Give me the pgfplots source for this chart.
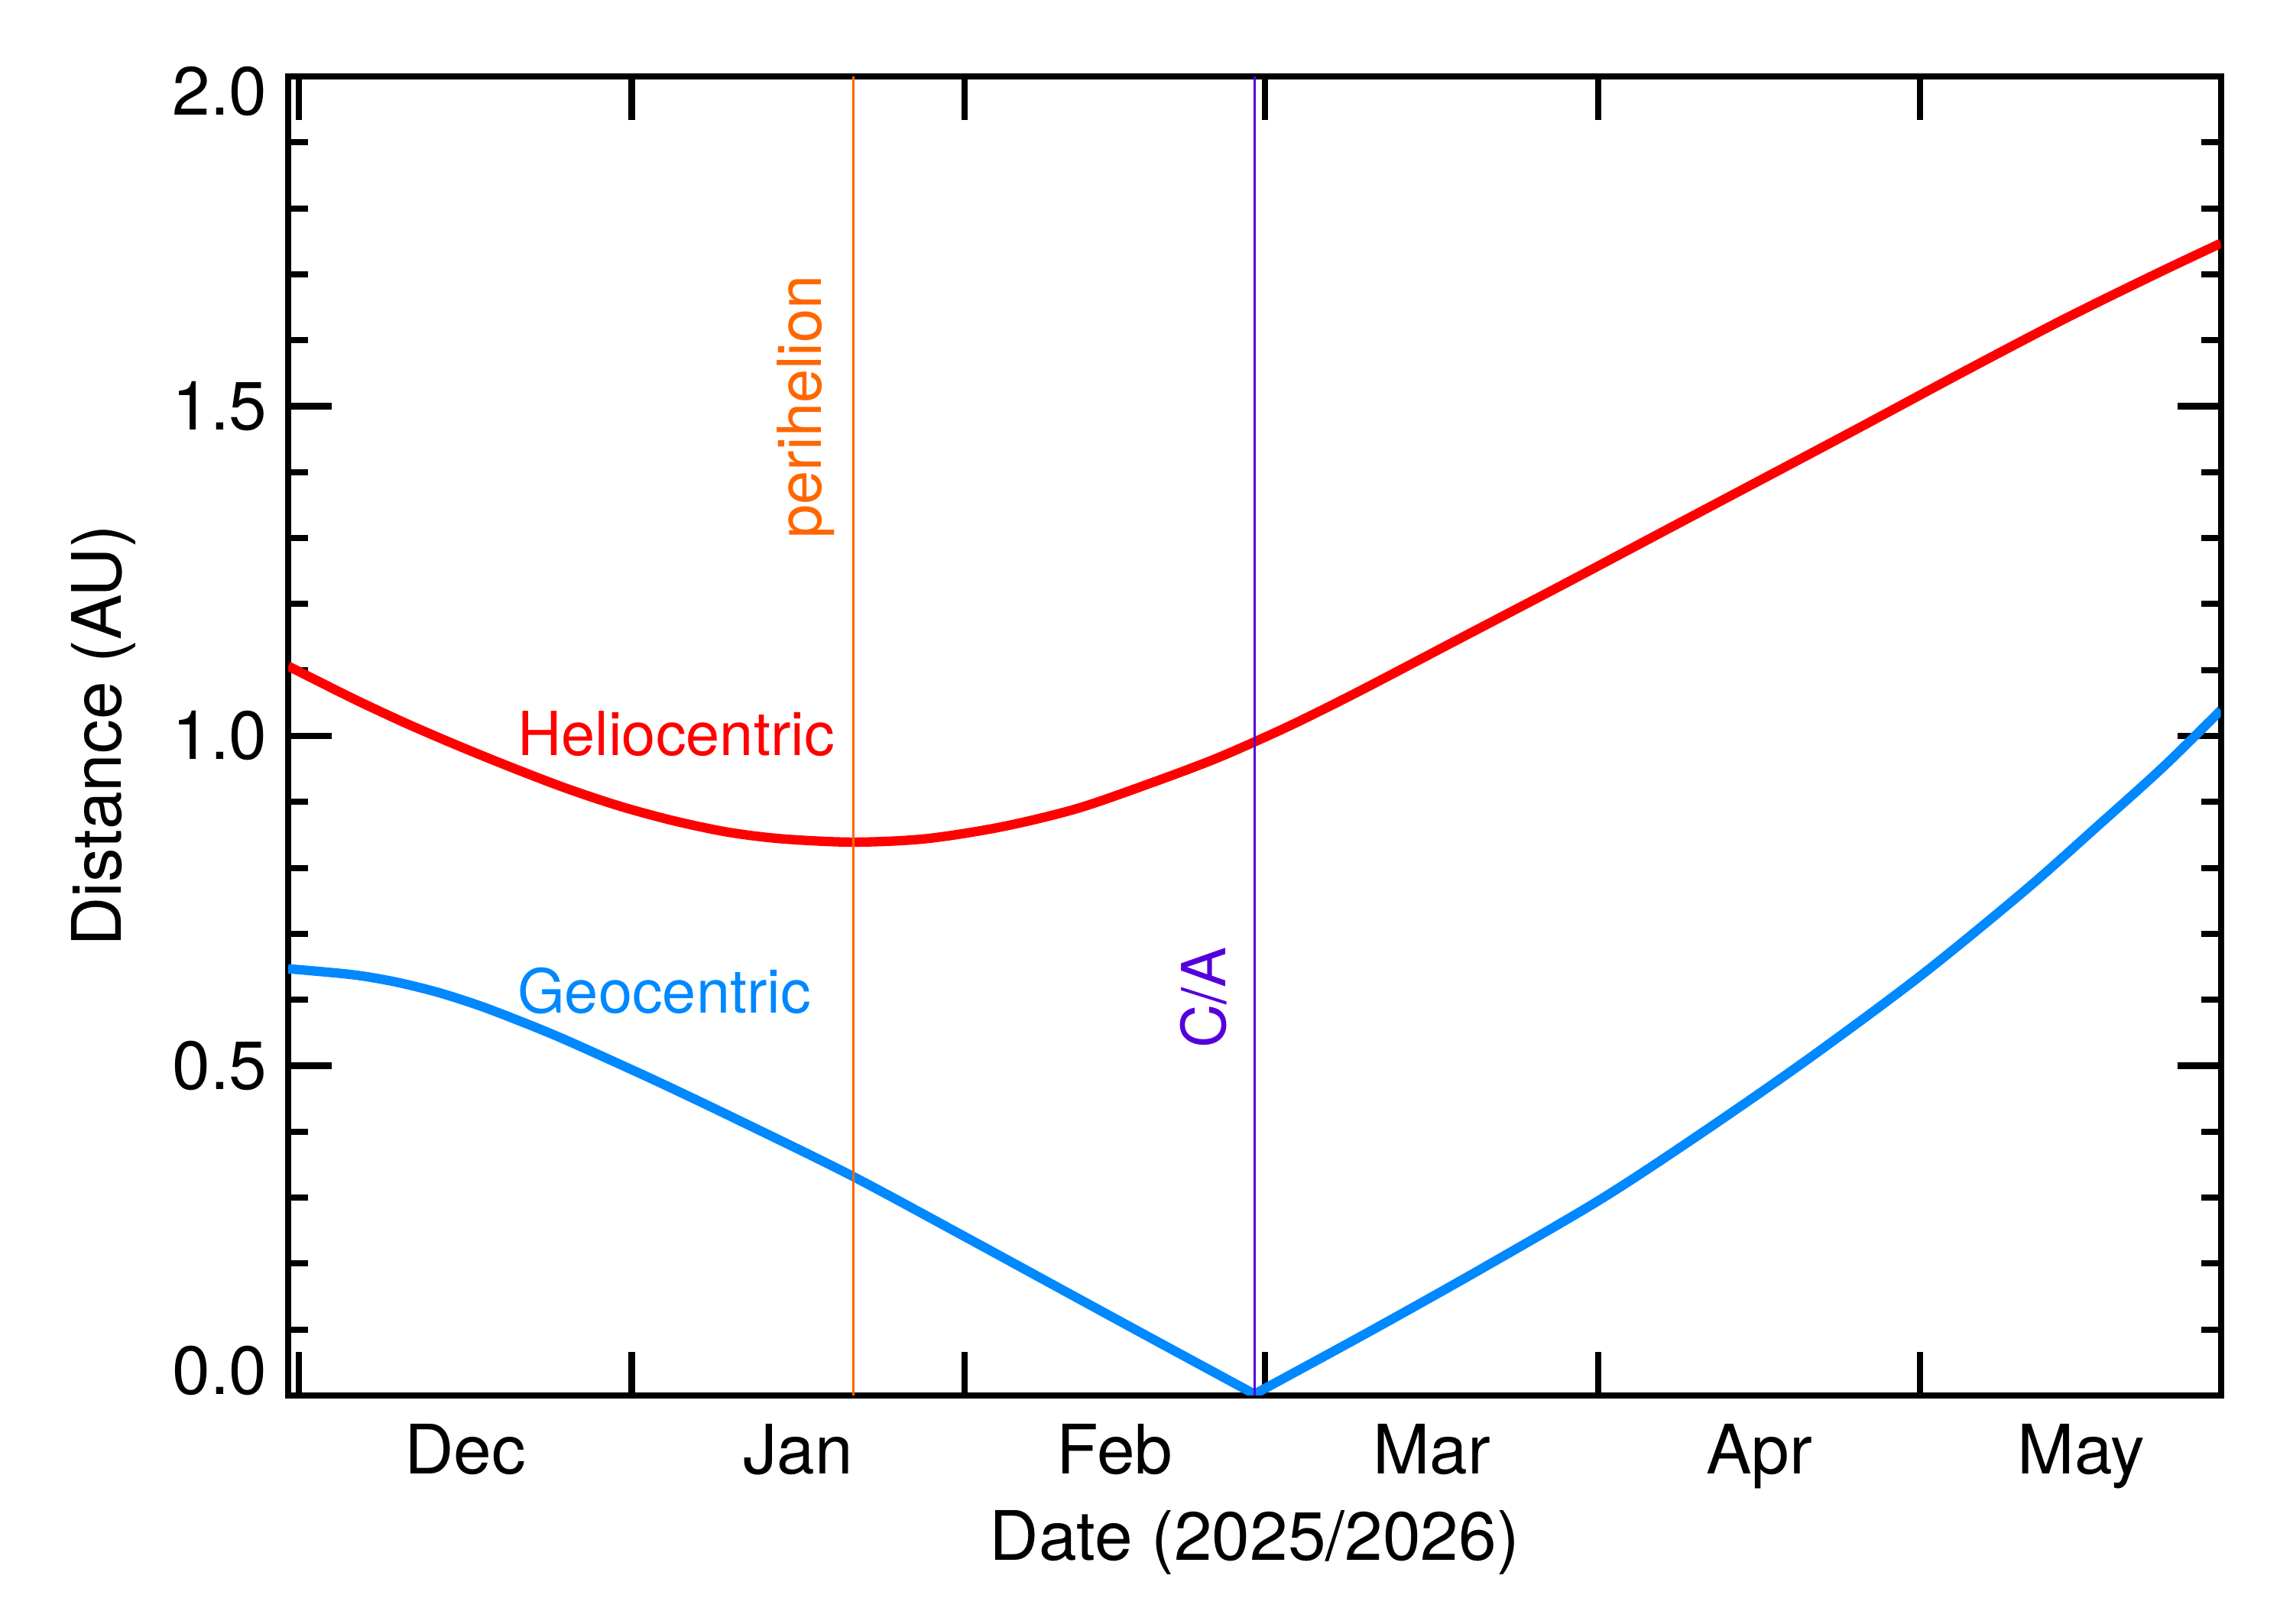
\documentclass[border=0pt]{standalone}
\usepackage{fontspec}
\setmainfont{TeX Gyre Heros}
\usepackage{pgfplots}
\pgfplotsset{compat=1.18}

\definecolor{helio}{RGB}{255,0,0}
\definecolor{geo}{RGB}{0,136,255}
\definecolor{peri}{RGB}{255,102,0}
\definecolor{closeapp}{RGB}{85,0,220}

\newcommand{\axisfont}{\fontsize{12.7}{15}\selectfont}
\newcommand{\notefont}{\fontsize{11.3}{13}\selectfont}

\begin{document}
\begin{tikzpicture}
\path[use as bounding box] (-18.85mm,-14.95mm) rectangle (131.15mm,91.3mm);
\begin{axis}[
  at={(0,0)}, anchor=south west,
  scale only axis,
  width=126.43mm, height=86.3mm,
  xmin=-1, xmax=179, ymin=0, ymax=2,
  clip mode=individual,
  axis line style={line width=1.15pt},
  every tick/.style={black, line width=1.15pt},
  major tick length=2.85mm, minor tick length=1.3mm,
  % month boundaries (days from 1 Dec 2025)
  xtick={0,31,62,90,121,151}, xticklabels={,,,,,},
  extra x ticks={15.5,46.5,76,105.5,136,166},
  extra x tick labels={Dec,Jan,Feb,Mar,Apr,May},
  extra x tick style={major tick length=0pt},
  ytick={0,0.5,1,1.5,2}, yticklabels={,0.5,1.0,1.5,},
  minor y tick num=4,
  ticklabel style={font=\axisfont, inner sep=0pt},
  xticklabel style={anchor=north, yshift=-1.79mm},
  yticklabel style={anchor=east, xshift=-1.3mm},
  xlabel={Date (2025/2026)}, ylabel={Distance (AU)},
  label style={font=\axisfont, inner sep=0pt},
  xlabel style={at={(axis description cs:0.5,-0.1251)}, anchor=base},
  ylabel style={at={(axis description cs:-0.0866,0.5)}, anchor=base},
]

% heliocentric distance
\addplot[helio, line width=1.75pt, smooth] coordinates {
  (-1,1.106) (5,1.057) (10,1.019) (15,0.984) (20,0.951) (25,0.920)
  (30,0.893) (35,0.871) (40,0.854) (45,0.844) (51.6,0.839) (58.3,0.844)
  (65.4,0.862) (72.5,0.890) (79.6,0.930) (85,0.963) (89,0.991) (93,1.021)
  (98.9,1.069) (108.4,1.150) (117.8,1.230) (127.3,1.312) (135.9,1.386)
  (145.4,1.468) (154.9,1.551) (164.4,1.632) (172.9,1.700) (179,1.747)
};

% geocentric distance, before and after close approach
\addplot[geo, line width=1.75pt, smooth] coordinates {
  (-1,0.647) (5,0.638) (9,0.627) (13,0.611) (17,0.590) (21,0.565)
  (25,0.538) (33,0.479) (41,0.417) (51.5,0.333) (62,0.241) (70,0.170)
  (78,0.099) (89,0.002)
};
\addplot[geo, line width=1.75pt, smooth] coordinates {
  (89,0.002) (99.5,0.095) (109.7,0.188) (121.1,0.296) (130.1,0.392)
  (140.3,0.507) (151,0.636) (160.7,0.765) (167.5,0.863) (173.7,0.954)
  (179,1.039)
};

% perihelion and close approach
\addplot[peri, line width=0.5pt] coordinates {(51.65,0) (51.65,2)};
\addplot[closeapp, line width=0.45pt] coordinates {(89,0) (89,2)};

\node[helio, font=\notefont, inner sep=0pt, anchor=base east] at (axis cs:50,0.970) {Heliocentric};
\node[geo, font=\notefont, inner sep=0pt, anchor=base east] at (axis cs:47.8,0.580) {Geocentric};
\node[peri, font=\notefont, inner sep=0pt, rotate=90, anchor=base west] at (axis cs:48.66,1.298) {perihelion};
\node[closeapp, font=\notefont, inner sep=0pt, rotate=90, anchor=base west] at (axis cs:86.3,0.525) {C/A};

% end labels of the y axis sit inside the frame
\node[font=\axisfont, inner sep=0pt, anchor=east] at ([xshift=-1.3mm,yshift=-1.0mm]rel axis cs:0,1) {2.0};
\node[font=\axisfont, inner sep=0pt, anchor=east] at ([xshift=-1.3mm,yshift=1.6mm]rel axis cs:0,0) {0.0};
\end{axis}
\end{tikzpicture}
\end{document}
